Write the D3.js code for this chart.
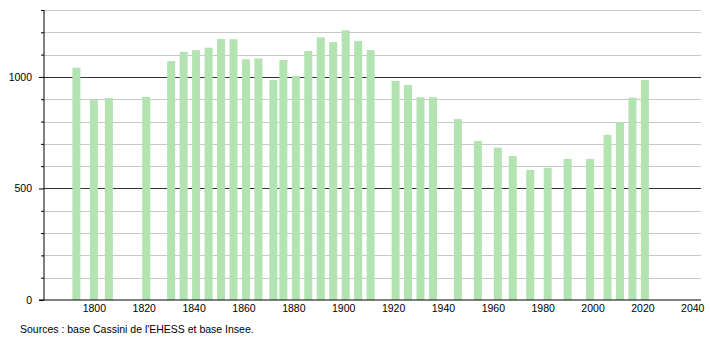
<!DOCTYPE html>
<html>
  <head>
    <meta charset="utf-8">
    <style>
      body { margin: 0; background: #fff; }
      text { font-family: "Liberation Sans", Arial, sans-serif; }
    </style>
    <script src="https://cdnjs.cloudflare.com/ajax/libs/d3/7.8.5/d3.min.js"></script>
  </head>
  <body>
    <div id="chart"></div>
    <script>
      // census years and population
      const years = [1793, 1800, 1806, 1821, 1831, 1836, 1841, 1846, 1851, 1856,
                     1861, 1866, 1872, 1876, 1881, 1886, 1891, 1896, 1901, 1906,
                     1911, 1921, 1926, 1931, 1936, 1946, 1954, 1962, 1968, 1975,
                     1982, 1990, 1999, 2006, 2011, 2016, 2021];
      const population = [1041, 896, 905, 910, 1071, 1113, 1120, 1131, 1170, 1169,
                          1079, 1083, 986, 1076, 1004, 1116, 1177, 1156, 1209, 1161,
                          1120, 982, 964, 909, 909, 811, 713, 683, 645, 583,
                          593, 632, 632, 740, 796, 907, 986];
      const xTicks = [1800, 1820, 1840, 1860, 1880, 1900, 1920, 1940, 1960, 1980, 2000, 2020, 2040];
      const yLabels = [0, 500, 1000];
      const source = "Sources : base Cassini de l'EHESS et base Insee.";

      const width = 710, height = 340;
      const mLeft = 44, mRight = 701, mTop = 10, mBottom = 300;
      const fs = 10.5;

      const svg = d3.select("#chart").append("svg")
        .attr("width", width)
        .attr("height", height);

      const x = d3.scaleLinear().domain([1780, 2043.5]).range([mLeft, mRight]);
      const y = d3.scaleLinear().domain([0, 1300]).range([mBottom, mTop]);

      // grid lines every 100
      const grid = d3.range(100, 1301, 100);
      svg.append("g").selectAll("line")
        .data(grid)
        .join("line")
        .attr("x1", mLeft).attr("x2", mRight)
        .attr("y1", d => Math.round(y(d)) + 0.5).attr("y2", d => Math.round(y(d)) + 0.5)
        .attr("stroke", d => d % 500 == 0 ? "#333" : "#c8c8c8")
        .attr("stroke-width", 1);

      // bars
      const data = years.map((yr, i) => ({year: yr, value: population[i]}));
      svg.append("g").selectAll("rect")
        .data(data)
        .join("rect")
        .attr("x", d => x(d.year) - 4)
        .attr("width", 8)
        .attr("y", d => y(d.value))
        .attr("height", d => y(0) - y(d.value))
        .attr("fill", "#b2e3b0");

      // y axis
      const yAxis = d3.axisLeft(y)
        .tickValues(d3.range(0, 1301, 100))
        .tickSize(3)
        .tickFormat(d => yLabels.includes(d) ? d : "");
      const gy = svg.append("g")
        .attr("transform", `translate(${mLeft},0)`)
        .call(yAxis);
      gy.select(".domain").attr("stroke", "#000").attr("d", `M0,${mTop}V${mBottom}`);
      gy.selectAll(".tick line").attr("stroke", "#000")
        .attr("x2", d => yLabels.includes(d) ? -5 : -3);
      gy.selectAll(".tick text")
        .attr("x", -12)
        .attr("font-size", fs)
        .attr("font-family", "Liberation Sans, Arial, sans-serif")
        .attr("fill", "#000");

      // x axis
      const xAxis = d3.axisBottom(x)
        .tickValues(xTicks)
        .tickSize(0)
        .tickFormat(d3.format("d"));
      const gx = svg.append("g")
        .attr("transform", `translate(0,${mBottom})`)
        .call(xAxis);
      gx.select(".domain").attr("stroke", "#000").attr("d", `M${mLeft - 5},0H${mRight}`);
      gx.selectAll(".tick text")
        .attr("y", 4.5)
        .attr("font-size", fs)
        .attr("font-family", "Liberation Sans, Arial, sans-serif")
        .attr("fill", "#000");

      svg.append("text")
        .attr("x", 20)
        .attr("y", 333)
        .attr("font-size", fs)
        .attr("fill", "#000")
        .text(source);
    </script>
  </body>
</html>
